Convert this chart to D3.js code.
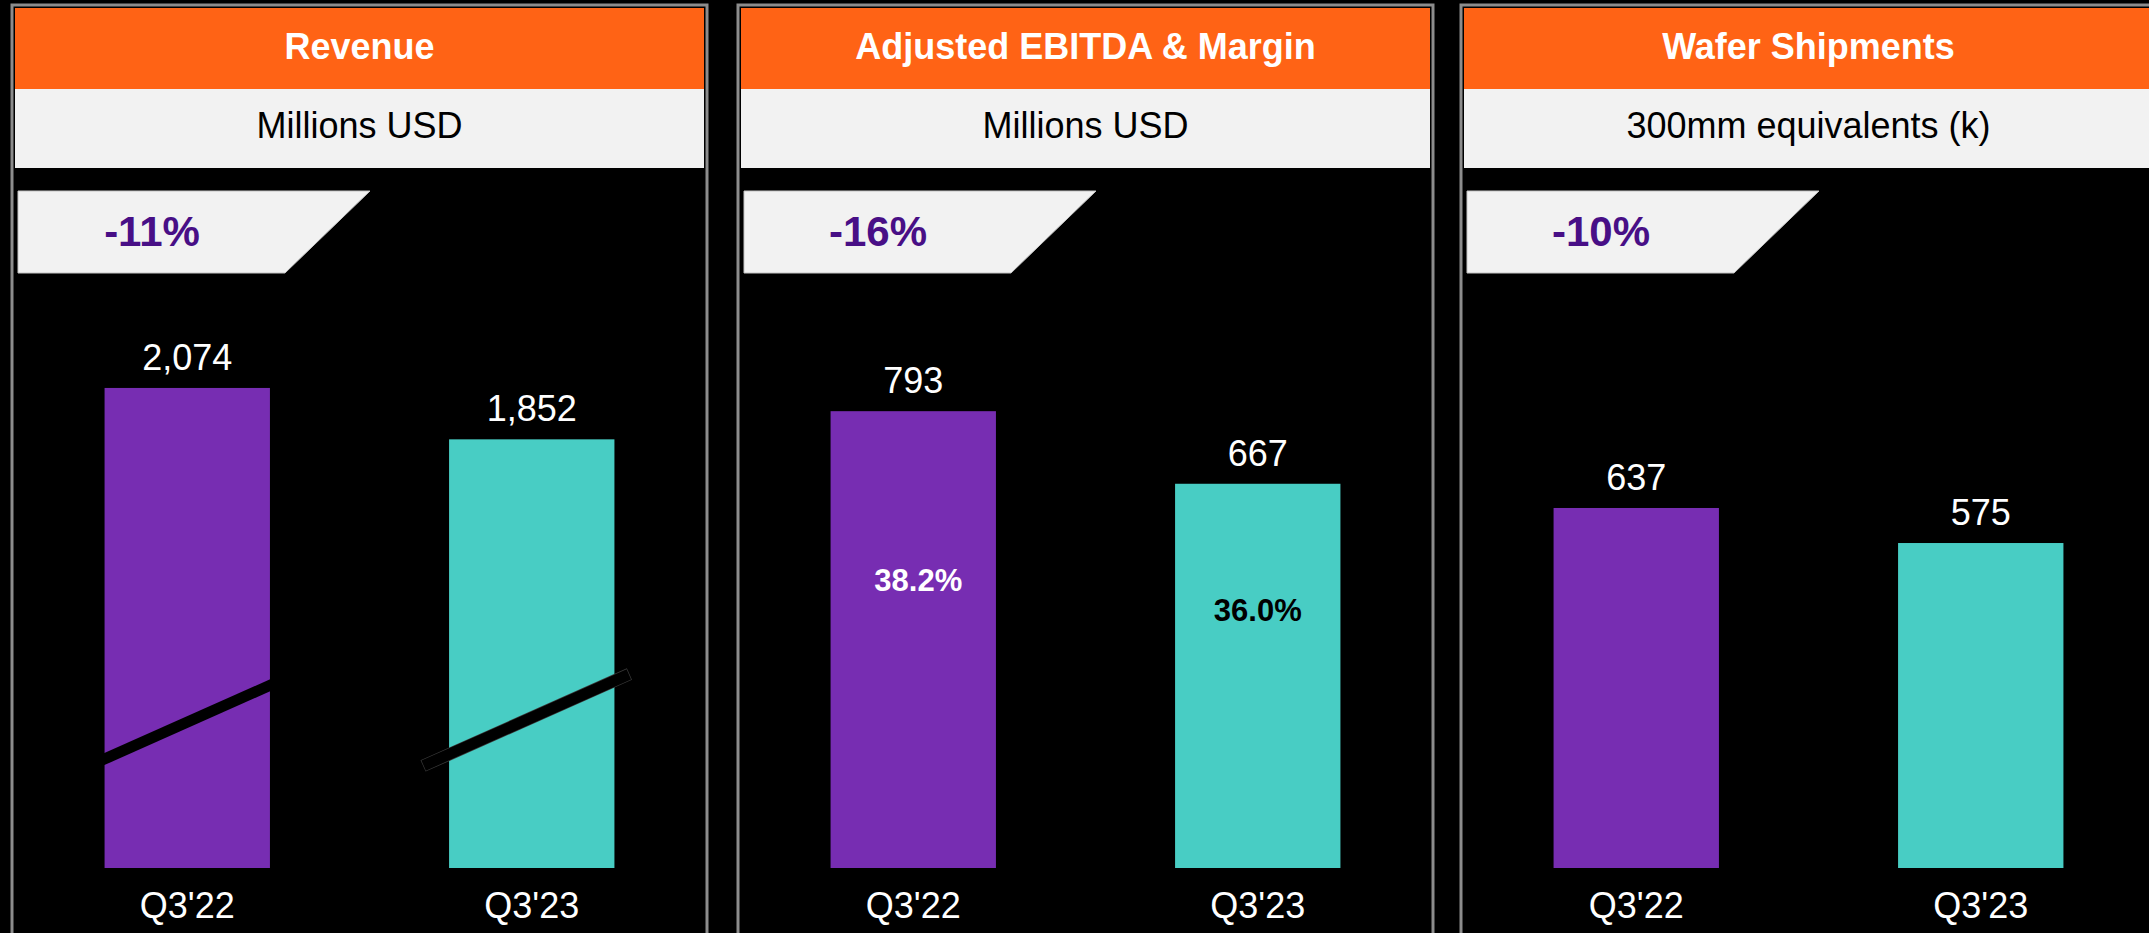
<!DOCTYPE html>
<html>
<head>
<meta charset="utf-8">
<script src="https://cdn.jsdelivr.net/npm/d3@7"></script>
<style>
  html, body { margin: 0; padding: 0; background: #000; }
  svg { display: block; }
  text { font-family: "Liberation Sans", Arial, sans-serif; }
</style>
</head>
<body>
<svg id="chart" width="2149" height="933"></svg>
<script>
// data
const categories = ["Q3'22", "Q3'23"];
const panelTitles = ["Revenue", "Adjusted EBITDA & Margin", "Wafer Shipments"];
const panelUnits = ["Millions USD", "Millions USD", "300mm equivalents (k)"];
const changeLabels = ["-11%", "-16%", "-10%"];
const revenue = [2074, 1852];
const adjEbitda = [793, 667];
const waferShipments = [637, 575];
const ebitdaMargin = [38.2, 36.0];
const revenueBreaks = [630, 650]; // the diagonal black marks across the revenue bars

const series = [revenue, adjEbitda, waferShipments];
const yMax = [2454, 986, 1005];

// colours
const orange = '#ff6315';
const barColors = ['#772db2', '#48cdc4'];
const marginColors = ['#ffffff', '#000000'];
const purpleText = '#480f86';

const svg = d3.select('#chart');
svg.append('rect').attr('width', 2149).attr('height', 933).attr('fill', '#000');

const panelX = [12, 738, 1461];
const panelW = 695;
const border = 3;
const plotBottom = 868, plotTop = 300;

const fmt = d3.format(',');

series.forEach((values, p) => {
  const g = svg.append('g');
  const left = panelX[p] + border;
  const right = panelX[p] + panelW - border;
  const mid = (left + right) / 2;

  // grey frame lines
  g.append('rect')
    .attr('x', panelX[p]).attr('y', 5)
    .attr('width', panelW).attr('height', 940)
    .attr('fill', 'none').attr('stroke', '#8c8c8c').attr('stroke-width', border);

  // orange title band
  g.append('rect').attr('x', left).attr('y', 8).attr('width', right - left).attr('height', 81).attr('fill', orange);
  g.append('text').attr('x', mid).attr('y', 59).attr('text-anchor', 'middle')
    .attr('fill', '#fff').attr('font-size', 36).attr('font-weight', 'bold').text(panelTitles[p]);

  // unit band
  g.append('rect').attr('x', left).attr('y', 89).attr('width', right - left).attr('height', 79).attr('fill', '#f2f2f2');
  g.append('text').attr('x', mid).attr('y', 138).attr('text-anchor', 'middle')
    .attr('fill', '#000').attr('font-size', 36).text(panelUnits[p]);

  // change badge
  g.append('path')
    .attr('d', `M${left + 3},191 L${left + 355},191 L${left + 270},273 L${left + 3},273 Z`)
    .attr('fill', '#f2f2f2').attr('stroke', '#c4c4c4').attr('stroke-width', 1);
  g.append('text').attr('x', left + 137).attr('y', 246).attr('text-anchor', 'middle')
    .attr('fill', purpleText).attr('font-size', 42).attr('font-weight', 'bold').text(changeLabels[p]);

  // scales
  const x = d3.scaleBand().domain(categories).range([left, right])
    .paddingInner(0.52).paddingOuter(0.26);
  const y = d3.scaleLinear().domain([0, yMax[p]]).range([plotBottom, plotTop]);

  // bars
  g.selectAll('rect.bar')
    .data(values)
    .join('rect')
      .attr('class', 'bar')
      .attr('x', (d, i) => x(categories[i]))
      .attr('y', d => y(d))
      .attr('width', x.bandwidth())
      .attr('height', d => y(0) - y(d))
      .attr('fill', (d, i) => barColors[i]);

  // value labels
  g.selectAll('text.value')
    .data(values)
    .join('text')
      .attr('class', 'value')
      .attr('x', (d, i) => x(categories[i]) + x.bandwidth() / 2)
      .attr('y', d => y(d) - 18)
      .attr('text-anchor', 'middle')
      .attr('fill', '#fff').attr('font-size', 36)
      .text(d => fmt(d));

  // category labels
  g.selectAll('text.cat')
    .data(categories)
    .join('text')
      .attr('class', 'cat')
      .attr('x', d => x(d) + x.bandwidth() / 2)
      .attr('y', 918)
      .attr('text-anchor', 'middle')
      .attr('fill', '#fff').attr('font-size', 36)
      .text(d => d);

  // margin labels inside the EBITDA bars
  if (p === 1) {
    const m = d3.scaleLinear().domain([30, 40]).range([703, 566]);
    g.selectAll('text.margin')
      .data(ebitdaMargin)
      .join('text')
        .attr('class', 'margin')
        .attr('x', (d, i) => x(categories[i]) + x.bandwidth() / 2 + (i === 0 ? 5 : 0))
        .attr('y', d => m(d))
        .attr('text-anchor', 'middle')
        .attr('fill', (d, i) => marginColors[i])
        .attr('font-size', 31).attr('font-weight', 'bold')
        .text(d => d.toFixed(1) + '%');
  }

  // break marks on revenue bars
  if (p === 0) {
    const slope = 0.445;
    const ext = [[3, 3], [26, 15]];
    revenueBreaks.forEach((v, i) => {
      const bx = x(categories[i]);
      const cx = bx + x.bandwidth() / 2;
      const x1 = bx - ext[i][0], x2 = bx + x.bandwidth() + ext[i][1];
      const yc = y(v);
      const pts = [[x1, yc + (cx - x1) * slope], [x2, yc - (x2 - cx) * slope]];
      if (i === 1) {
        // faint outline only shows where the mark leaves the bar
        g.append('line')
          .attr('x1', pts[0][0]).attr('y1', pts[0][1]).attr('x2', pts[1][0]).attr('y2', pts[1][1])
          .attr('stroke', '#3a3a3a').attr('stroke-width', 12.5);
      }
      g.append('line')
        .attr('x1', pts[0][0] + (i === 1 ? 0.6 : 0)).attr('y1', pts[0][1] - (i === 1 ? 0.3 : 0))
        .attr('x2', pts[1][0] - (i === 1 ? 0.6 : 0)).attr('y2', pts[1][1] + (i === 1 ? 0.3 : 0))
        .attr('stroke', '#000').attr('stroke-width', 11);
    });
  }
});
</script>
</body>
</html>
